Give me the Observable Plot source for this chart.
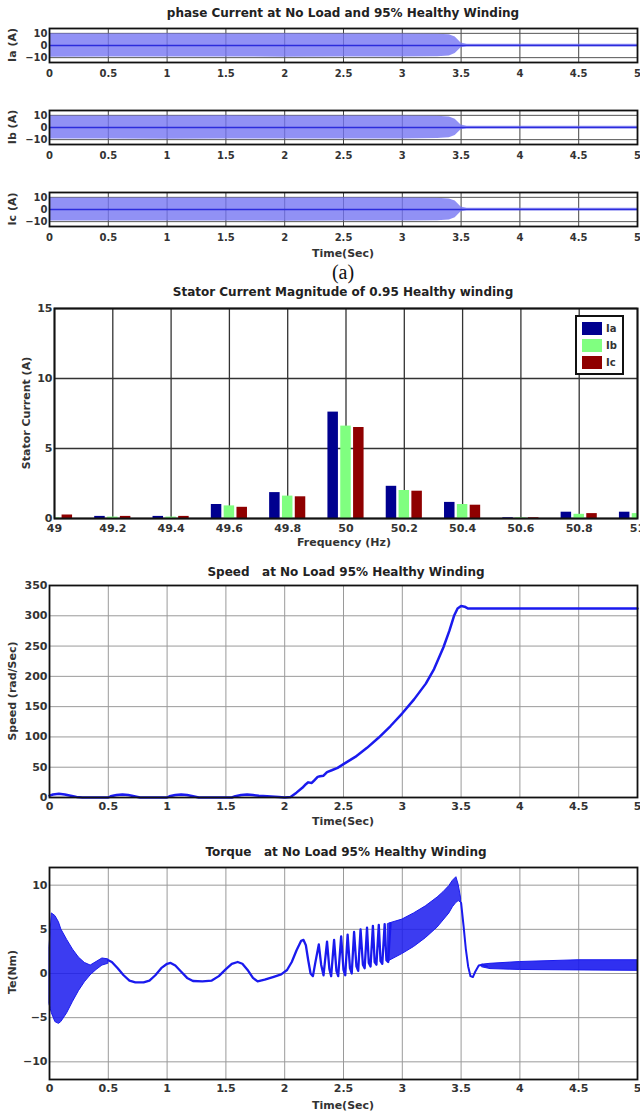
<!DOCTYPE html>
<html><head><meta charset="utf-8">
<script src="https://cdn.jsdelivr.net/npm/d3@7"></script>
<script src="https://cdn.jsdelivr.net/npm/@observablehq/plot@0.6"></script>
<style>
body{margin:0;background:#fff;}
#root{position:relative;width:640px;height:1113px;overflow:hidden;font-family:"DejaVu Sans",sans-serif;color:#222;}
.panel{position:absolute;left:0;}
.ttl{position:absolute;font-weight:bold;font-size:12px;transform:translate(-50%,-50%);white-space:pre;color:#222;}
.xl{position:absolute;font-weight:bold;font-size:11px;transform:translate(-50%,-50%);white-space:pre;color:#333;}
.yl{position:absolute;font-weight:bold;font-size:11px;transform:translate(-50%,-50%) rotate(-90deg);white-space:pre;color:#333;}
.sub{position:absolute;font-family:"Liberation Serif",serif;font-size:20px;transform:translate(-50%,-50%);color:#111;}
#legend{position:absolute;left:575px;top:315px;width:49px;height:60px;box-sizing:border-box;border:2px solid #111;background:#fff;padding:3px 0 0 5px;}
#legend .row{display:flex;align-items:center;height:17px;font-weight:bold;font-size:10px;color:#333;}
#legend .sw{width:20px;height:13px;margin-right:4px;}
</style></head><body><div id="root"></div>
<script>
// ---------- data ----------
const timeTicks = [0, 0.5, 1, 1.5, 2, 2.5, 3, 3.5, 4, 4.5, 5];
const currentTicks = [-10, 0, 10];
const envTime = [0, 0.5, 1, 1.5, 2, 2.5, 3, 3.3, 3.4, 3.45, 3.5, 3.55, 4, 4.5, 5];
const iaUpper = [9.6, 9.4, 9.6, 9.4, 9.6, 9.4, 9.5, 9.3, 8.8, 7.0, 2.0, 1.1, 1.1, 1.1, 1.1];
const iaLower = [-9.6, -9.5, -9.5, -9.4, -9.6, -9.4, -9.4, -9.2, -8.6, -6.5, -1.8, -1.1, -1.1, -1.1, -1.1];
const ibUpper = [9.5, 9.5, 9.4, 9.6, 9.4, 9.5, 9.4, 9.2, 8.6, 6.8, 2.0, 1.1, 1.1, 1.1, 1.1];
const ibLower = [-9.5, -9.4, -9.6, -9.4, -9.5, -9.5, -9.4, -9.1, -8.5, -6.6, -1.9, -1.1, -1.1, -1.1, -1.1];
const icUpper = [9.5, 9.4, 9.5, 9.5, 9.4, 9.6, 9.4, 9.3, 8.7, 7.0, 2.1, 1.1, 1.1, 1.1, 1.1];
const icLower = [-9.5, -9.5, -9.4, -9.5, -9.6, -9.4, -9.5, -9.2, -8.6, -6.7, -1.9, -1.1, -1.1, -1.1, -1.1];

const freqs = [49, 49.2, 49.4, 49.6, 49.8, 50, 50.2, 50.4, 50.6, 50.8, 51];
const freqLabels = ["49", "49.2", "49.4", "49.6", "49.8", "50", "50.2", "50.4", "50.6", "50.8", "51"];
const statorIa = [0.05, 0.15, 0.15, 1.0, 1.85, 7.6, 2.3, 1.15, 0.05, 0.45, 0.45];
const statorIb = [0.05, 0.1, 0.1, 0.9, 1.6, 6.6, 2.0, 1.0, 0.05, 0.3, 0.35];
const statorIc = [0.25, 0.15, 0.15, 0.8, 1.55, 6.5, 1.95, 0.95, 0.05, 0.35, 0.3];
const phases = ["Ia", "Ib", "Ic"];
const phaseColors = ["#00008f", "#80ff80", "#8f0000"];
const magnitudeTicks = [0, 5, 10, 15];

const speedTime = [0, 0.03, 0.08, 0.13, 0.18, 0.23, 0.28, 0.5, 0.52, 0.57, 0.62, 0.67, 0.72, 0.77, 1.0, 1.02, 1.07, 1.12, 1.17, 1.22, 1.27, 1.55, 1.58, 1.63, 1.68, 1.73, 1.78, 1.85, 1.95, 2.0, 2.05, 2.1, 2.15, 2.18, 2.2, 2.23, 2.25, 2.28, 2.3, 2.33, 2.36, 2.4, 2.45, 2.5, 2.6, 2.7, 2.8, 2.9, 3.0, 3.1, 3.2, 3.27, 3.35, 3.4, 3.44, 3.47, 3.5, 3.53, 3.56, 3.6, 4, 4.5, 5];
const speedValue = [3, 5, 6, 5, 3, 1, 0, 0, 2, 4, 5, 4, 2, 0, 0, 2, 4, 5, 4, 2, 0, 0, 2, 4, 5, 4, 3, 2, 1, 0, 1, 8, 16, 22, 25, 24, 28, 34, 35, 36, 42, 45, 49, 55, 67, 82, 99, 118, 139, 162, 188, 212, 248, 275, 300, 312, 316, 315, 312, 312, 312, 312, 312];
const speedTicks = [0, 50, 100, 150, 200, 250, 300, 350];

const torqueTicks = [-10, -5, 0, 5, 10];
// startup band (dense oscillation envelope)
const startTime = [0, 0.02, 0.05, 0.08, 0.1, 0.15, 0.2, 0.25, 0.3, 0.35, 0.4, 0.45, 0.5];
const startUpper = [3, 6.8, 6.5, 5.8, 5.0, 3.8, 2.7, 1.8, 1.2, 0.9, 1.3, 1.7, 1.6];
const startLower = [-3.5, -4.5, -5.5, -5.7, -5.5, -4.5, -3.2, -2.0, -1.0, -0.2, 0.4, 0.9, 1.1];
// slow oscillation trace
const midTime = [0.5, 0.53, 0.58, 0.63, 0.68, 0.73, 0.8, 0.85, 0.9, 0.95, 1.0, 1.03, 1.07, 1.12, 1.17, 1.22, 1.3, 1.38, 1.44, 1.5, 1.55, 1.6, 1.64, 1.69, 1.73, 1.77, 1.83, 1.9, 1.97, 2.02, 2.06, 2.1, 2.14, 2.16, 2.18, 2.2, 2.22, 2.24, 2.26, 2.29, 2.31, 2.33, 2.36, 2.38, 2.395, 2.42, 2.44, 2.455, 2.48, 2.5, 2.515, 2.535, 2.555, 2.57, 2.59, 2.61, 2.625, 2.645, 2.665, 2.68, 2.7, 2.715, 2.73, 2.75, 2.765, 2.78, 2.8, 2.815, 2.83, 2.85, 2.865, 2.88, 2.9];
const midValue = [1.5, 1.3, 0.6, -0.2, -0.8, -1.0, -1.0, -0.8, -0.2, 0.6, 1.1, 1.2, 0.9, 0.2, -0.5, -0.85, -0.9, -0.8, -0.3, 0.5, 1.1, 1.3, 1.1, 0.3, -0.5, -0.9, -0.7, -0.4, -0.1, 0.4, 1.3, 2.6, 3.7, 3.8, 3.2, 1.5, 0.0, -0.3, 1.2, 3.3, 1.0, -0.2, 3.6, 0.5, -0.3, 3.8, 0.3, -0.3, 4.2, 0.4, -0.2, 4.4, 0.6, 0.0, 4.7, 0.8, 0.3, 5.0, 1.0, 0.6, 5.2, 1.2, 0.8, 5.4, 1.3, 1.0, 5.5, 1.4, 1.1, 5.6, 1.5, 1.3, 5.7];
// accelerating band before steady state
const rampTime = [2.88, 2.9, 3.0, 3.1, 3.2, 3.3, 3.35, 3.4, 3.43, 3.46, 3.48, 3.5];
const rampUpper = [5.6, 5.7, 6.1, 6.8, 7.6, 8.6, 9.2, 9.9, 10.5, 10.9, 10.0, 8.5];
const rampLower = [1.3, 1.5, 2.2, 3.0, 4.0, 5.2, 6.0, 6.8, 7.5, 8.0, 8.2, 8.0];
// drop to steady state
const dropTime = [3.5, 3.52, 3.54, 3.56, 3.58, 3.6, 3.62, 3.65, 3.68, 3.72];
const dropValue = [8.0, 5.5, 2.8, 0.8, -0.3, -0.4, 0.2, 0.9, 1.0, 0.8];
// steady-state band
const tailTime = [3.68, 3.75, 4, 4.5, 5];
const tailUpper = [1.0, 1.1, 1.3, 1.5, 1.5];
const tailLower = [0.7, 0.5, 0.4, 0.35, 0.3];

// ---------- helpers ----------
const root = document.getElementById("root");
function place(node, top) {
  const d = document.createElement("div");
  d.className = "panel"; d.style.top = top + "px";
  d.appendChild(node); root.appendChild(d);
}
function text(cls, str, x, y) {
  const d = document.createElement("div");
  d.className = cls; d.textContent = str;
  d.style.left = x + "px"; d.style.top = y + "px";
  root.appendChild(d);
}
const fmtTime = d => String(d);
const baseStyle = {fontFamily: "DejaVu Sans, sans-serif", fontWeight: "bold", fontSize: "11px", color: "#333", background: "transparent"};

// ---------- current panels ----------
function currentPanel(up, lo, top, label) {
  const rows = envTime.map((t, i) => ({t, up: up[i], lo: lo[i]}));
  const svg = Plot.plot({
    width: 640, height: 62, marginTop: 6, marginBottom: 22, marginLeft: 49, marginRight: 3,
    style: {...baseStyle, fontSize: "10px"},
    x: {domain: [0, 5], ticks: timeTicks, tickFormat: fmtTime, tickSize: 0, tickPadding: 7, label: null},
    y: {domain: [-14, 14], ticks: currentTicks, tickSize: 0, tickPadding: 2, label: null},
    marks: [
      Plot.ruleX(timeTicks, {stroke: "#444", strokeWidth: 1}),
      Plot.ruleY(currentTicks, {stroke: "#555", strokeWidth: 1}),
      Plot.areaY(rows, {x: "t", y1: "lo", y2: "up", fill: "#7676f2", fillOpacity: 0.8}),
      Plot.ruleY([0], {stroke: "#2c2cdc", strokeWidth: 1.5}),
      Plot.frame({stroke: "#111", strokeWidth: 1.8})
    ]
  });
  place(svg, top - 6);
  text("yl", label, 12, top + 17);
}
text("ttl", "phase Current at No Load and 95% Healthy Winding", 343, 13);
currentPanel(iaUpper, iaLower, 28, "Ia (A)");
currentPanel(ibUpper, ibLower, 110, "Ib (A)");
currentPanel(icUpper, icLower, 192, "Ic (A)");
text("xl", "Time(Sec)", 343, 253);
text("sub", "(a)", 343, 272);

// ---------- bar chart ----------
const series = [statorIa, statorIb, statorIc];
const barRows = [];
phases.forEach((p, k) => {
  const off = (k - 1) * 0.044;
  freqs.forEach((f, i) => barRows.push({phase: p, x1: f + off - 0.018, x2: f + off + 0.018, base: 0, v: series[k][i]}));
});
const barSvg = Plot.plot({
  width: 640, height: 238, marginTop: 6, marginBottom: 22, marginLeft: 54, marginRight: 3,
  style: baseStyle,
  x: {domain: [49, 51], ticks: freqs, tickFormat: (d, i) => freqLabels[i], tickSize: 0, tickPadding: 6, label: null},
  y: {domain: [0, 15], ticks: magnitudeTicks, tickSize: 0, tickPadding: 2, label: null},
  color: {domain: phases, range: phaseColors},
  marks: [
    Plot.ruleX(freqs, {stroke: "#333", strokeWidth: 1.3}),
    Plot.ruleY(magnitudeTicks, {stroke: "#333", strokeWidth: 1.3}),
    Plot.rect(barRows, {x1: "x1", x2: "x2", y1: "base", y2: "v", fill: "phase", clip: true}),
    Plot.frame({stroke: "#111", strokeWidth: 2})
  ]
});
text("ttl", "Stator Current Magnitude of 0.95 Healthy winding", 343, 292);
place(barSvg, 302);
text("yl", "Stator Current (A)", 26, 413);
text("xl", "Frequency (Hz)", 344, 542);
const leg = document.createElement("div"); leg.id = "legend";
phases.forEach((p, k) => {
  const r = document.createElement("div"); r.className = "row";
  const s = document.createElement("div"); s.className = "sw"; s.style.background = phaseColors[k];
  const t = document.createElement("span"); t.textContent = p;
  r.appendChild(s); r.appendChild(t); leg.appendChild(r);
});
root.appendChild(leg);

// ---------- speed ----------
const speedRows = speedTime.map((t, i) => ({t, v: speedValue[i]}));
const speedSvg = Plot.plot({
  width: 640, height: 238, marginTop: 6, marginBottom: 20, marginLeft: 49, marginRight: 3,
  style: baseStyle,
  x: {domain: [0, 5], ticks: timeTicks, tickFormat: fmtTime, tickSize: 0, tickPadding: 5, label: null},
  y: {domain: [0, 350], ticks: speedTicks, tickSize: 0, tickPadding: 2, label: null},
  marks: [
    Plot.ruleX(timeTicks, {stroke: "#9a9a9a", strokeWidth: 1}),
    Plot.ruleY(speedTicks, {stroke: "#9a9a9a", strokeWidth: 1}),
    Plot.line(speedRows, {x: "t", y: "v", stroke: "#1a1aee", strokeWidth: 2.5}),
    Plot.frame({stroke: "#111", strokeWidth: 1.8})
  ]
});
text("ttl", "Speed   at No Load 95% Healthy Winding", 346, 572);
place(speedSvg, 579);
text("yl", "Speed (rad/Sec)", 12, 691);
text("xl", "Time(Sec)", 343, 821);

// ---------- torque ----------
const startRows = startTime.map((t, i) => ({t, up: startUpper[i], lo: startLower[i]}));
const midRows = midTime.map((t, i) => ({t, v: midValue[i]}));
const rampRows = rampTime.map((t, i) => ({t, up: rampUpper[i], lo: rampLower[i]}));
const dropRows = dropTime.map((t, i) => ({t, v: dropValue[i]}));
const tailRows = tailTime.map((t, i) => ({t, up: tailUpper[i], lo: tailLower[i]}));
const blue = "#1a1aee";
const torqueSvg = Plot.plot({
  width: 640, height: 238, marginTop: 6, marginBottom: 20, marginLeft: 49, marginRight: 3,
  style: baseStyle,
  x: {domain: [0, 5], ticks: timeTicks, tickFormat: fmtTime, tickSize: 0, tickPadding: 5, label: null},
  y: {domain: [-12, 12], ticks: torqueTicks, tickSize: 0, tickPadding: 2, label: null},
  marks: [
    Plot.ruleX(timeTicks, {stroke: "#9a9a9a", strokeWidth: 1}),
    Plot.ruleY(torqueTicks, {stroke: "#9a9a9a", strokeWidth: 1}),
    Plot.areaY(startRows, {x: "t", y1: "lo", y2: "up", fill: blue, fillOpacity: 0.85, stroke: blue, strokeWidth: 1}),
    Plot.line(midRows, {x: "t", y: "v", stroke: blue, strokeWidth: 2.3}),
    Plot.areaY(rampRows, {x: "t", y1: "lo", y2: "up", fill: blue, fillOpacity: 0.85, stroke: blue, strokeWidth: 1}),
    Plot.line(dropRows, {x: "t", y: "v", stroke: blue, strokeWidth: 2}),
    Plot.areaY(tailRows, {x: "t", y1: "lo", y2: "up", fill: blue, fillOpacity: 0.9, stroke: blue, strokeWidth: 1}),
    Plot.frame({stroke: "#111", strokeWidth: 1.8})
  ]
});
text("ttl", "Torque   at No Load 95% Healthy Winding", 346, 852);
place(torqueSvg, 861);
text("yl", "Te(Nm)", 12, 972);
text("xl", "Time(Sec)", 343, 1105);
</script></body></html>
